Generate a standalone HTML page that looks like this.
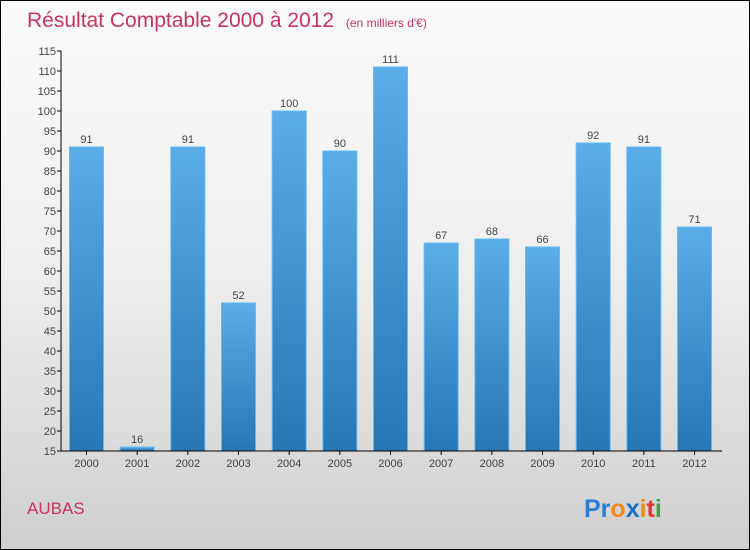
<!DOCTYPE html>
<html><head><meta charset="utf-8"><style>
body{margin:0}
#c{width:748px;height:548px;border:1px solid #000;background:linear-gradient(#fbfbfb 0%,#eeeeee 50%,#cfcfcf 100%);position:relative;font-family:"Liberation Sans",sans-serif;overflow:hidden}
</style></head><body>
<div id="c">
<svg width="748" height="548" xmlns="http://www.w3.org/2000/svg">
<defs><linearGradient id="bg" x1="0" y1="0" x2="0" y2="1"><stop offset="0" stop-color="#5aade6"/><stop offset="1" stop-color="#2777b5"/></linearGradient></defs>
<text x="26" y="26" font-size="21" fill="#c8335f">Résultat Comptable 2000 à 2012 <tspan font-size="12" dx="6">(en milliers d'€)</tspan></text>
<g id="plot"></g>
<text x="26" y="513" font-size="17" fill="#c8335f">AUBAS</text>
<text x="583" y="516" font-size="25" font-weight="bold"><tspan fill="#2a7fd4">Pr</tspan><tspan fill="#f28a1a">o</tspan><tspan fill="#1a6fc8">x</tspan><tspan fill="#f28a1a">i</tspan><tspan fill="#e8332a">t</tspan><tspan fill="#3aa83a">i</tspan></text>
</svg>
</div>
<script>
const years=["2000","2001","2002","2003","2004","2005","2006","2007","2008","2009","2010","2011","2012"];
const values=[91,16,91,52,100,90,111,67,68,66,92,91,71];
const ticks=[15,20,25,30,35,40,45,50,55,60,65,70,75,80,85,90,95,100,105,110,115];
const NS="http://www.w3.org/2000/svg";
const g=document.getElementById('plot');
const y=v=>450-(v-15)*4;
const x=i=>85.5+i*50.67;
function mk(t,a){const e=document.createElementNS(NS,t);for(const k in a)e.setAttribute(k,a[k]);g.appendChild(e);return e;}
ticks.forEach(t=>{
 const l=mk('line',{x1:56,x2:60,y1:y(t),y2:y(t),stroke:'#000'});
 
 
 const tx=mk('text',{x:55,y:y(t)+4,'font-size':11,'text-anchor':'end',fill:'#444'});
 tx.textContent=t;
 
 
});
years.forEach((yr,i)=>{
 const v=values[i];
 const r=mk('rect',{x:x(i)-17,y:y(v),width:34,height:450-y(v),fill:'url(#bg)',stroke:'#6ab8ec','stroke-width':1});
 
 
 const vl=mk('text',{x:x(i),y:y(v)-4,'font-size':11,'text-anchor':'middle',fill:'#444'});
 vl.textContent=v;
 
 
 const tk=mk('line',{x1:x(i),x2:x(i),y1:450,y2:454,stroke:'#000'});
 
 
 const xl=mk('text',{x:x(i),y:466,'font-size':11,'text-anchor':'middle',fill:'#444'});
 xl.textContent=yr;
 
 
});
const ya=mk('line',{x1:60,x2:60,y1:50,y2:450,stroke:'#000'});


const xa=mk('line',{x1:60,x2:721,y1:450,y2:450,stroke:'#000'});


</script>
</body></html>
